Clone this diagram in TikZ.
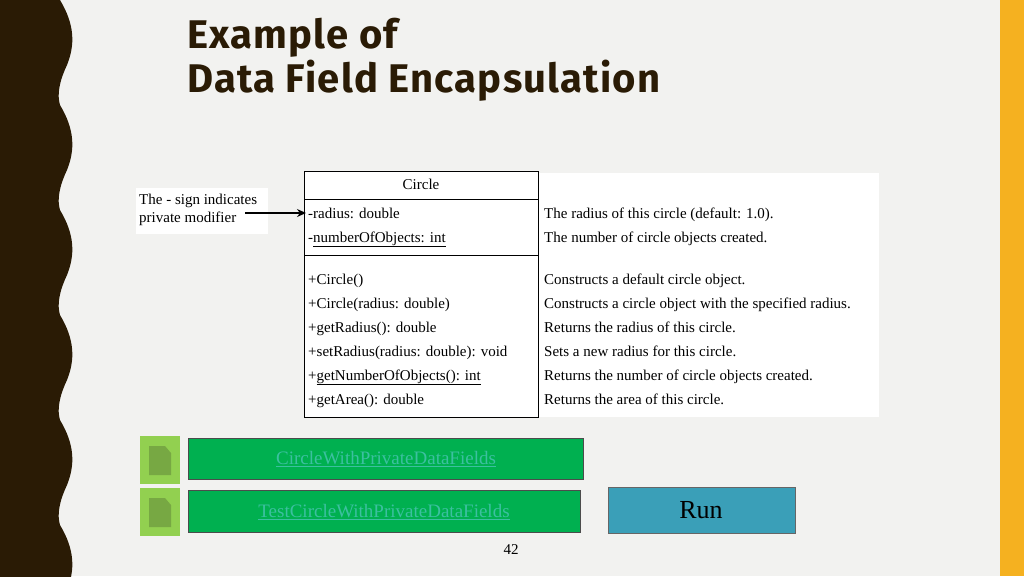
\documentclass[tikz,border=0pt]{standalone}
\usepackage{fontspec}
\setmainfont{Liberation Serif}
\newfontfamily\titlefont[LetterSpace=3]{Fira Sans}
\usetikzlibrary{arrows.meta}
\definecolor{bg}{HTML}{F2F2F0}
\definecolor{dark}{HTML}{2A1B05}
\definecolor{gold}{HTML}{F5B120}
\definecolor{lg}{HTML}{92D050}
\definecolor{dg}{HTML}{77A843}
\definecolor{btn}{HTML}{00B050}
\definecolor{lnk}{HTML}{3CC0A0}
\definecolor{runc}{HTML}{3A9FB8}
\tikzset{
  uml/.style={font=\fontsize{15}{17}\selectfont, anchor=base west, inner sep=0, yshift=-5pt},
  desc/.style={font=\fontsize{15}{17}\selectfont, anchor=base west, inner sep=0, yshift=-5pt},
  icon/.style={fill=lg, draw=none},
  button/.style={fill=btn, draw=black!70, line width=0.8pt},
  linktxt/.style={font=\fontsize{19}{21}\selectfont, text=lnk},
}
\begin{document}
\begin{tikzpicture}[x=1pt,y=-1pt]
\useasboundingbox (0,0) rectangle (1024,576);
\fill[bg] (0,0) rectangle (1024,576);
\fill[gold] (1000,0) rectangle (1024,576);
\fill[dark] (0,0) -- (60,0)
  \foreach \k in {0,...,5} { .. controls (75,{\k*105+25}) and (75,{\k*105+45}) .. (67,{\k*105+65})
     .. controls (59,{\k*105+82}) and (57,{\k*105+95}) .. (60,{\k*105+105}) }
  -- (60,630) -- (0,630) -- cycle;
% title
\node[anchor=north west, inner sep=0, align=left, text=dark,
  font=\titlefont\bfseries\fontsize{40}{44}\selectfont] (title) at (187,18) {Example of\\Data Field Encapsulation};
% annotation
\fill[white] (136,188) rectangle (268,234);
\node[desc] (n1) at (139,199) {The - sign indicates};
\node[desc] (n2) at (139,217) {private modifier};
% description box
\fill[white] (538,173) rectangle (879,417);
% UML class
\draw[fill=white, line width=0.8pt] (304,171) rectangle (538,417);
\draw[line width=0.8pt] (304,199) -- (538,199) (304,255) -- (538,255);
\node[font=\fontsize{15}{17}\selectfont] (cname) at (421,184) {Circle};
\node[uml] (a1) at (308,213) {-radius: double};
\node[uml] (a2) at (308,237) {-\underline{numberOfObjects: int}};
\node[uml] at (308,279) {+Circle()};
\node[uml] at (308,303) {+Circle(radius: double)};
\node[uml] at (308,327) {+getRadius(): double};
\node[uml] at (308,351) {+setRadius(radius: double): void};
\node[uml] at (308,375) {+\underline{getNumberOfObjects(): int}};
\node[uml] at (308,399) {+getArea(): double};
\node[desc] at (544,213) {The radius of this circle (default: 1.0).};
\node[desc] at (544,237) {The number of circle objects created.};
\node[desc] at (544,279) {Constructs a default circle object.};
\node[desc] at (544,303) {Constructs a circle object with the specified radius.};
\node[desc] at (544,327) {Returns the radius of this circle.};
\node[desc] at (544,351) {Sets a new radius for this circle.};
\node[desc] at (544,375) {Returns the number of circle objects created.};
\node[desc] at (544,399) {Returns the area of this circle.};
\coordinate (astart) at (245,213);
\coordinate (aend) at (306,213);
\draw[-{Stealth[length=9pt,width=8pt]}, line width=1.4pt] (astart) -- (aend);
% icons
\foreach \y in {436,488} {
  \fill[icon] (140,\y) rectangle (180,\y+48);
  \fill[dg] (149,\y+10) -- (165,\y+10) -- (171,\y+17) -- (171,\y+39) -- (149,\y+39) -- cycle;
}
% buttons
\draw[button] (188,438) rectangle (583,479);
\node[linktxt] (b1) at (386,459) {\underline{CircleWithPrivateDataFields}};
\draw[button] (188,490) rectangle (580,532);
\node[linktxt] (b2) at (384,512) {\underline{TestCircleWithPrivateDataFields}};
\draw[fill=runc, draw=black!60, line width=0.8pt] (608,487) rectangle (795,533);
\node[font=\fontsize{26}{28}\selectfont] (run) at (701,510) {Run};
\node[font=\fontsize{15}{17}\selectfont] (pg) at (511,550) {42};
\end{tikzpicture}
\end{document}
